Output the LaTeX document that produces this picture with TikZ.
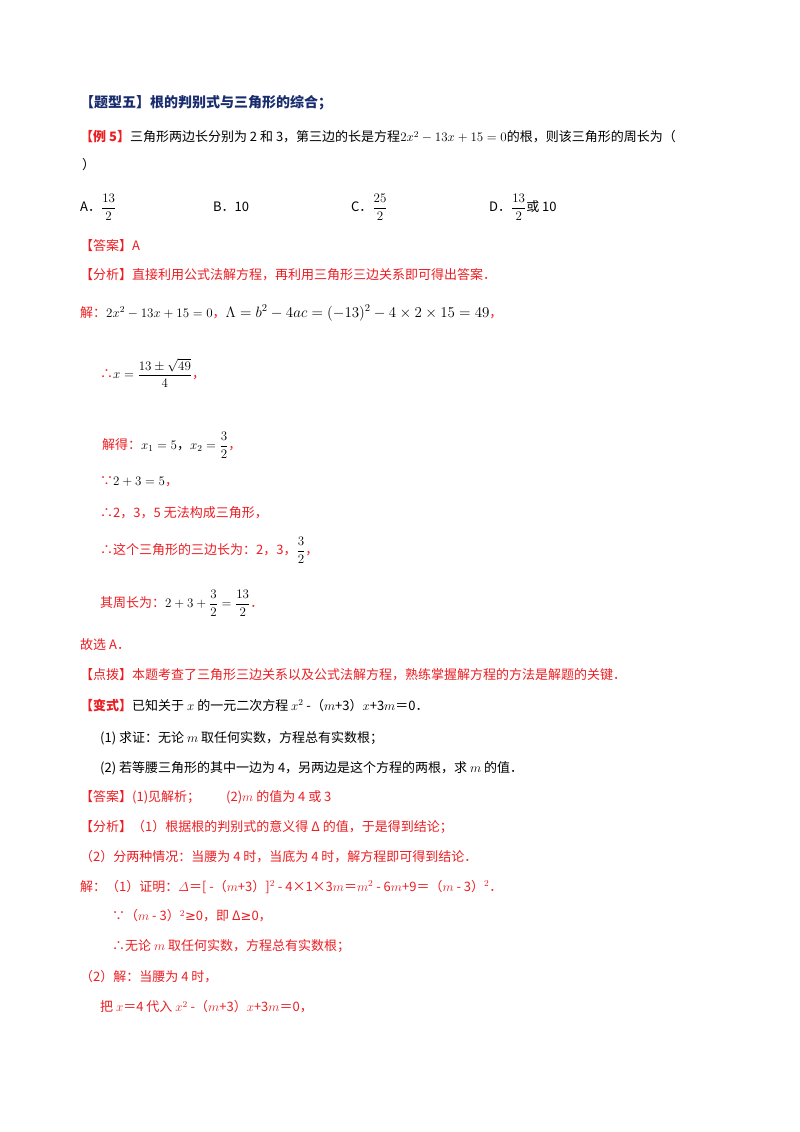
\RequirePackage{fix-cm}
\documentclass[tikz,border=0pt]{standalone}
\usepackage{amsmath}
\usepackage{fontspec}
\setmainfont{Noto Sans CJK SC}
\newfontfamily\sym{DejaVu Sans}
\definecolor{tblue}{RGB}{25,45,110}
\definecolor{tred}{RGB}{235,30,35}
\tikzset{t/.style={anchor=west,inner sep=0pt,font=\fontsize{13}{15}\selectfont},
 r/.style={t,text=tred},
 b/.style={t,text=black}}
\begin{document}
\begin{tikzpicture}[x=1pt,y=-1pt]
\useasboundingbox[fill=white] (0,0) rectangle (800,1132);
\node[t,text=tblue,font=\fontsize{14}{16}\selectfont\bfseries] (title) at (80,103) {【题型五】根的判别式与三角形的综合；};
\node[b] (ex) at (80,137) {\textcolor{tred}{\bfseries【例 5】}三角形两边长分别为 2 和 3，第三边的长是方程$2x^2-13x+15=0$的根，则该三角形的周长为（};
\node[b] (paren) at (82,165) {）};
\node[b] (oa) at (80,207) {A．$\dfrac{13}{2}$};
\node[b] (ob) at (213,207) {B．10};
\node[b] (oc) at (351,207) {C．$\dfrac{25}{2}$};
\node[b] (od) at (489,207) {D．$\dfrac{13}{2}$或 10};
\node[r] (ans) at (80,246) {【答案】A};
\node[r] (ana) at (80,275) {【分析】直接利用公式法解方程，再利用三角形三边关系即可得出答案．};
\node[r] (sol) at (80,313) {解：\textcolor{black}{$2x^2-13x+15=0$}，\textcolor{black}{\fontsize{15}{17}\selectfont$\Lambda=b^2-4ac=(-13)^2-4\times2\times15=49$}，};
\node[r] (x) at (100,373) {∴\textcolor{black}{$x=\dfrac{13\pm\sqrt{49}}{4}$}，};
\node[r] (roots) at (102,445) {\textcolor{tred}{解得：}\textcolor{black}{$x_1=5$，$x_2=\dfrac{3}{2}$}，};
\node[r] (since) at (100,482) {∵\textcolor{black}{$2+3=5$}，};
\node[r] (no) at (100,513) {∴2，3，5 无法构成三角形，};
\node[r] (sides) at (100,550) {∴这个三角形的三边长为：2，3，\textcolor{black}{$\dfrac{3}{2}$}，};
\node[r] (per) at (100,603) {其周长为：\textcolor{black}{$2+3+\dfrac{3}{2}=\dfrac{13}{2}$}．};
\node[r] (pick) at (80,645) {故选 A．};
\node[r] (tip) at (80,675) {【点拨】本题考查了三角形三边关系以及公式法解方程，熟练掌握解方程的方法是解题的关键．};
\node[b] (var) at (80,705) {\textcolor{tred}{\bfseries【变式】}已知关于 $x$ 的一元二次方程 $x^2$ -（$m$+3）$x$+3$m$＝0．};
\node[b] (q1) at (100,738) {(1) 求证：无论 $m$ 取任何实数，方程总有实数根；};
\node[b] (q2) at (100,768) {(2) 若等腰三角形的其中一边为 4，另两边是这个方程的两根，求 $m$ 的值．};
\node[r] (ans2) at (80,797) {【答案】(1)见解析；\hspace{2em}(2)$m$ 的值为 4 或 3};
\node[r] (ana2) at (80,827) {【分析】（1）根据根的判别式的意义得 Δ 的值，于是得到结论；};
\node[r] (ana3) at (80,857) {（2）分两种情况：当腰为 4 时，当底为 4 时，解方程即可得到结论．};
\node[r] (s1) at (80,887) {解：（1）证明：$\varDelta$＝[ -（$m$+3）]$^2$ - 4×1×3$m$＝$m^2$ - 6$m$+9＝（$m$ - 3）$^2$．};
\node[r] (s2) at (112,916) {∵（$m$ - 3）$^2${\sym ≥}0，即 Δ{\sym ≥}0，};
\node[r] (s3) at (112,946) {∴无论 $m$ 取任何实数，方程总有实数根；};
\node[r] (s4) at (80,977) {（2）解：当腰为 4 时，};
\node[r] (s5) at (100,1007) {把 $x$＝4 代入 $x^2$ -（$m$+3）$x$+3$m$＝0，};
\end{tikzpicture}
\end{document}
